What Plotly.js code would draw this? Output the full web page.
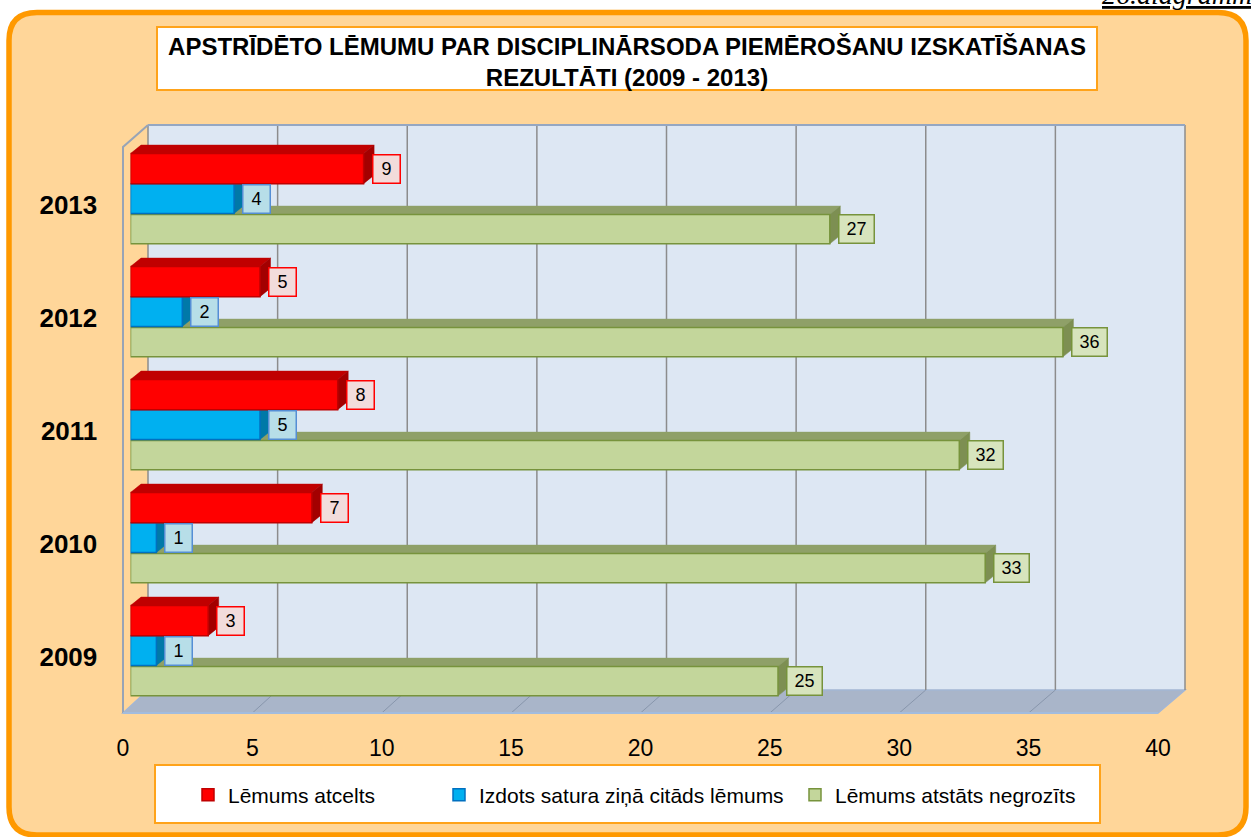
<!DOCTYPE html>
<html>
<head>
<meta charset="utf-8">
<script src="https://cdn.plot.ly/plotly-3.0.1.min.js"></script>
<style>html,body{margin:0;padding:0;background:#fff;}#chart{width:1251px;height:837px;}</style>
</head>
<body>
<div id="chart"></div>
<script>
// ---- data ----
var years = ['2009', '2010', '2011', '2012', '2013'];
var atcelts = [3, 7, 8, 5, 9];
var citads = [1, 1, 5, 2, 4];
var negrozits = [25, 33, 32, 36, 27];
var seriesNames = ['Lēmums atcelts', 'Izdots satura ziņā citāds lēmums', 'Lēmums atstāts negrozīts'];
var xTicks = [0, 5, 10, 15, 20, 25, 30, 35, 40];

// ---- geometry (pixels) ----
var W = 1251, H = 837;
function X(px) { return px / W; }
function Y(py) { return 1 - py / H; }
var PXU = 25.9;              // pixels per x unit
var CAT = 113;               // pixels per category
var x0px = 130.5;            // bar zero
var yBot = 713.5;            // y = -0.5
var yMin = -0.5, yMax = 4.6;
var yTop = yBot - (yMax - yMin) * CAT;
var dx = 10.5 / PXU, dy = 8.5 / CAT;   // 3D depth in data units

var styles = [
  {vals: atcelts, off: 0.189, w: 0.266, front: '#FF0000', edge: '#C00000', top: '#C00000', side: '#A30000', boxLine: '#FF0000', boxFill: '#F2DCDB'},
  {vals: citads, off: -0.075, w: 0.262, front: '#00B0F0', edge: '#0070C0', top: '#0088BB', side: '#0079A8', boxLine: '#558ED5', boxFill: '#B7DEE8'},
  {vals: negrozits, off: -0.344, w: 0.259, front: '#C3D69B', edge: '#77933C', top: '#8FA068', side: '#7D8F52', boxLine: '#77933C', boxFill: '#D7E4BD'}
];

var traces = [];
// depth faces (drawn on the base subplot, under the bars)
[2, 1, 0].forEach(function (s) {
  var st = styles[s];
  var tx = [], ty = [], sx = [], sy = [];
  st.vals.forEach(function (v, i) {
    var y0 = i + st.off, y1 = y0 + st.w;
    tx.push(0, dx, v + dx, v, 0, null);
    ty.push(y1, y1 + dy, y1 + dy, y1, y1, null);
    sx.push(v, v + dx, v + dx, v, v, null);
    sy.push(y0, y0 + dy, y1 + dy, y1, y0, null);
  });
  traces.push({type: 'scatter', mode: 'lines', x: tx, y: ty, fill: 'toself', fillcolor: st.top,
    line: {width: 0.5, color: st.top}, hoverinfo: 'skip', showlegend: false, xaxis: 'x', yaxis: 'y'});
  traces.push({type: 'scatter', mode: 'lines', x: sx, y: sy, fill: 'toself', fillcolor: st.side,
    line: {width: 0.5, color: st.side}, hoverinfo: 'skip', showlegend: false, xaxis: 'x', yaxis: 'y'});
});
// empty trace so the tick-label axis gets drawn
traces.push({type: 'scatter', mode: 'markers', x: [], y: [], xaxis: 'x3', yaxis: 'y', showlegend: false, hoverinfo: 'skip'});
// front faces (bars) on the overlay subplot
var legendIds = ['legend', 'legend2', 'legend3'];
[2, 1, 0].forEach(function (s) {
  var st = styles[s];
  traces.push({type: 'bar', orientation: 'h', name: seriesNames[s], x: st.vals, y: [0, 1, 2, 3, 4],
    offset: st.off, width: st.w, xaxis: 'x2', yaxis: 'y2', legend: legendIds[s],
    marker: {color: st.front, line: {color: st.edge, width: 1.5}}, hoverinfo: 'x'});
});

// value labels
var annotations = [];
styles.forEach(function (st) {
  st.vals.forEach(function (v, i) {
    var txt = String(v);
    annotations.push({xref: 'x', yref: 'y', x: v + 8 / PXU, y: i + st.off + st.w / 2, xanchor: 'left', yanchor: 'middle',
      text: txt, showarrow: false, font: {family: 'Liberation Sans, Arial', size: 18, color: '#000'},
      bgcolor: st.boxFill, bordercolor: st.boxLine, borderwidth: 1.5, borderpad: 1.5,
      width: txt.length > 1 ? 31 : 23, height: 24});
  });
});
annotations.push({xref: 'paper', yref: 'paper', x: X(1100), y: Y(-5), xanchor: 'left', yanchor: 'middle',
  text: '<i><u>26.diagramma</u></i>', showarrow: false, font: {family: 'Liberation Serif, Times New Roman', size: 28, color: '#000'}});

// ---- decoration shapes ----
var shapes = [];
var L = 9, T = 12.5, R = 1246, B = 835, r = 28;
shapes.push({type: 'path', xref: 'paper', yref: 'paper', layer: 'below',
  path: 'M' + X(L + r) + ',' + Y(T) + ' L' + X(R - r) + ',' + Y(T) + ' Q' + X(R) + ',' + Y(T) + ' ' + X(R) + ',' + Y(T + r) +
        ' L' + X(R) + ',' + Y(B - r) + ' Q' + X(R) + ',' + Y(B) + ' ' + X(R - r) + ',' + Y(B) +
        ' L' + X(L + r) + ',' + Y(B) + ' Q' + X(L) + ',' + Y(B) + ' ' + X(L) + ',' + Y(B - r) +
        ' L' + X(L) + ',' + Y(T + r) + ' Q' + X(L) + ',' + Y(T) + ' ' + X(L + r) + ',' + Y(T) + ' Z',
  fillcolor: '#FFD699', line: {color: '#FF9900', width: 5.5}});
// title box
shapes.push({type: 'rect', xref: 'paper', yref: 'paper', layer: 'below', x0: X(157), x1: X(1097), y0: Y(27), y1: Y(90),
  fillcolor: '#FFFFFF', line: {color: '#FFA31A', width: 2}});
// legend box
shapes.push({type: 'rect', xref: 'paper', yref: 'paper', layer: 'below', x0: X(155), x1: X(1100), y0: Y(765), y1: Y(823),
  fillcolor: '#FFFFFF', line: {color: '#FFA31A', width: 2}});
// back wall
var wL = 148, wR = 1185, wT = 125, wB = 690;
var fL = 123, fR = 1158, fB = 713;
shapes.push({type: 'rect', xref: 'paper', yref: 'paper', layer: 'below', x0: X(wL), x1: X(wR), y0: Y(wB), y1: Y(wT),
  fillcolor: '#DDE7F3', line: {width: 0}});
// floor
shapes.push({type: 'path', xref: 'paper', yref: 'paper', layer: 'below',
  path: 'M' + X(fL) + ',' + Y(fB) + ' L' + X(wL) + ',' + Y(wB) + ' L' + X(wR) + ',' + Y(wB) + ' L' + X(fR) + ',' + Y(fB) + ' Z',
  fillcolor: '#A9B5C9', line: {color: '#A3B6D4', width: 1.5}});
xTicks.forEach(function (t) {
  var bx = wL + (wR - wL) * t / 40, fx = fL + (fR - fL) * t / 40;
  if (t > 0 && t < 40) {
    shapes.push({type: 'line', xref: 'paper', yref: 'paper', layer: 'below', x0: X(bx), y0: Y(wB), x1: X(fx), y1: Y(fB),
      line: {color: '#8896AC', width: 1}});
  }
  shapes.push({type: 'line', xref: 'paper', yref: 'paper', layer: 'below', x0: X(bx), y0: Y(wT), x1: X(bx), y1: Y(wB),
    line: {color: '#8C8C8C', width: 1.5}});
});
// wall outline (top edge and left side)
shapes.push({type: 'line', xref: 'paper', yref: 'paper', layer: 'below', x0: X(wL), y0: Y(wT), x1: X(wR), y1: Y(wT),
  line: {color: '#95A7C2', width: 2}});
shapes.push({type: 'path', xref: 'paper', yref: 'paper', layer: 'below',
  path: 'M' + X(wL) + ',' + Y(wT) + ' L' + X(fL) + ',' + Y(wT + 22) + ' L' + X(fL) + ',' + Y(fB),
  line: {color: '#98A4B6', width: 2}});
shapes.push({type: 'line', xref: 'paper', yref: 'paper', layer: 'below', x0: X(fL), y0: Y(fB), x1: X(fR), y1: Y(fB),
  line: {color: '#A3BCDD', width: 2}});

var legendFont = {family: 'Liberation Sans, Arial', size: 21, color: '#000'};
function leg(px) {
  return {x: X(px), y: Y(795), xanchor: 'left', yanchor: 'middle', orientation: 'h', bgcolor: 'rgba(0,0,0,0)',
    borderwidth: 0, font: legendFont, itemwidth: 30};
}

var layout = {
  width: W, height: H,
  margin: {l: 0, r: 0, t: 0, b: 0},
  paper_bgcolor: '#FFFFFF', plot_bgcolor: 'rgba(0,0,0,0)',
  barmode: 'overlay',
  showlegend: true,
  title: {text: 'APSTRĪDĒTO LĒMUMU PAR DISCIPLINĀRSODA PIEMĒROŠANU IZSKATĪŠANAS<br>REZULTĀTI (2009 - 2013)',
    x: X(627), xanchor: 'center', y: Y(55), yanchor: 'top', yref: 'container',
    font: {family: 'Liberation Sans, Arial', size: 24, color: '#000', weight: 'bold'}},
  xaxis: {domain: [X(x0px), X(x0px + 40 * PXU)], range: [0, 40], showgrid: false, zeroline: false,
    showticklabels: false, showline: false, fixedrange: true},
  yaxis: {domain: [Y(yBot), Y(yTop)], range: [yMin, yMax], tickvals: [0, 1, 2, 3, 4], ticktext: years,
    ticks: 'outside', ticklen: 27, tickcolor: 'rgba(0,0,0,0)', showgrid: false, zeroline: false, showline: false,
    tickfont: {family: 'Liberation Sans, Arial', size: 26, color: '#000', weight: 'bold'}, fixedrange: true},
  xaxis2: {overlaying: 'x', range: [0, 40], visible: false, fixedrange: true},
  yaxis2: {overlaying: 'y', range: [yMin, yMax], visible: false, fixedrange: true},
  xaxis3: {anchor: 'free', position: Y(732), domain: [X(fL), X(fR)], range: [0, 40], tickvals: xTicks,
    ticks: '', showgrid: false, zeroline: false, showline: false,
    tickfont: {family: 'Liberation Sans, Arial', size: 23, color: '#000'}, fixedrange: true},
  legend: leg(188),
  legend2: leg(439),
  legend3: leg(795),
  shapes: shapes,
  annotations: annotations
};

Plotly.newPlot('chart', traces, layout, {displayModeBar: false, staticPlot: true});
</script>
</body>
</html>
